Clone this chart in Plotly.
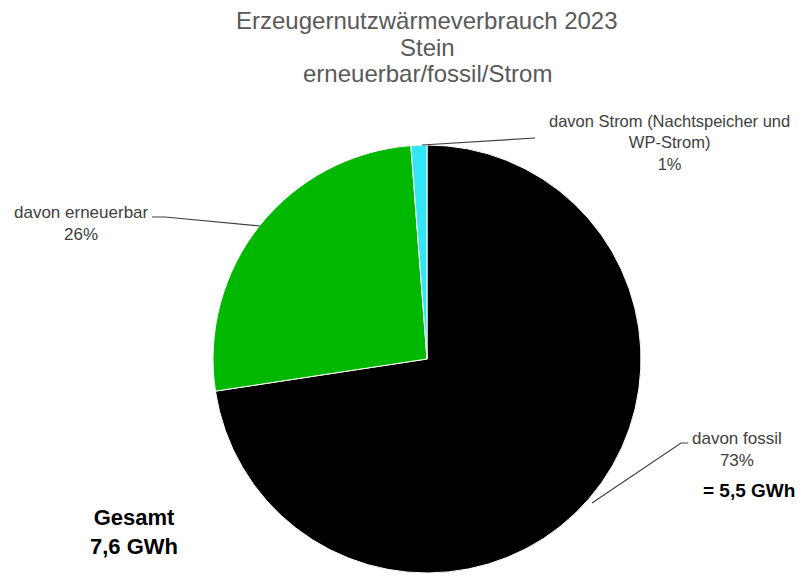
import plotly.graph_objects as go

# Data
categories = ["davon fossil", "davon erneuerbar", "davon Strom (Nachtspeicher und<br>WP-Strom)"]
shares = [72.6, 26.2, 1.2]
colors = ["#000000", "#00B800", "#33E6F5"]
total_label = "Gesamt<br>7,6 GWh"
fossil_label = "= 5,5 GWh"
title_lines = ["Erzeugernutzwärmeverbrauch 2023", "Stein", "erneuerbar/fossil/Strom"]

# page offset (body margin) compensation
OFF = 8
W, H = 803 - OFF, 577 - OFF
def px(x):
    return (x - OFF) / W
def py(y):
    return 1 - (y - OFF) / H

cx, cy, r = 427, 359, 214

fig = go.Figure(go.Pie(
    labels=categories,
    values=shares,
    sort=False,
    direction="clockwise",
    rotation=0,
    marker=dict(colors=colors, line=dict(color="#FFFFFF", width=1)),
    textinfo="none",
    hoverinfo="label+percent",
    domain=dict(x=[px(cx - r), px(cx + r)], y=[py(cy + r), py(cy - r)]),
    showlegend=False,
))

pcts = [round(v / sum(shares) * 100) for v in shares]
FONT = "Liberation Sans, Arial, sans-serif"
label_font = dict(family=FONT, size=17, color="#404040")
strom_font = dict(family=FONT, size=16.5, color="#404040")
title_font = dict(family=FONT, size=24, color="#595959")

annotations = []
for line, yb in zip(title_lines, [30, 57, 83]):
    annotations.append(dict(x=px(427), y=py(yb + 6), text=line, showarrow=False,
                            xanchor="center", yanchor="bottom", font=title_font))

annotations += [
    dict(x=px(669), y=py(143), text=f"{categories[2]}<br>{pcts[2]}%",
         showarrow=False, xanchor="center", yanchor="middle", font=strom_font),
    dict(x=px(81), y=py(224), text=f"{categories[1]}<br>{pcts[1]}%",
         showarrow=False, xanchor="center", yanchor="middle", font=label_font),
    dict(x=px(737), y=py(449), text=f"{categories[0]}<br>{pcts[0]}%",
         showarrow=False, xanchor="center", yanchor="middle", font=label_font),
    dict(x=px(749), y=py(490), text=f"<b>{fossil_label}</b>",
         showarrow=False, xanchor="center", yanchor="middle",
         font=dict(family=FONT, size=19, color="#000000")),
    dict(x=px(134), y=py(532), text=f"<b>{total_label}</b>",
         showarrow=False, xanchor="center", yanchor="middle",
         font=dict(family=FONT, size=22, color="#000000")),
]

line_style = dict(color="#404040", width=1.2)
shapes = [
    dict(type="path", xref="paper", yref="paper",
         path=f"M {px(422)} {py(145)} L {px(535)} {py(138)}", line=line_style),
    dict(type="path", xref="paper", yref="paper",
         path=f"M {px(152)} {py(217)} L {px(165)} {py(217)} L {px(260)} {py(226)}", line=line_style),
    dict(type="path", xref="paper", yref="paper",
         path=f"M {px(688)} {py(443)} L {px(681)} {py(443)} L {px(592)} {py(503)}", line=line_style),
]

fig.update_layout(
    width=W, height=H,
    margin=dict(l=0, r=0, t=0, b=0),
    paper_bgcolor="#FFFFFF",
    plot_bgcolor="#FFFFFF",
    annotations=annotations,
    shapes=shapes,
)

fig.write_html("out.html")
